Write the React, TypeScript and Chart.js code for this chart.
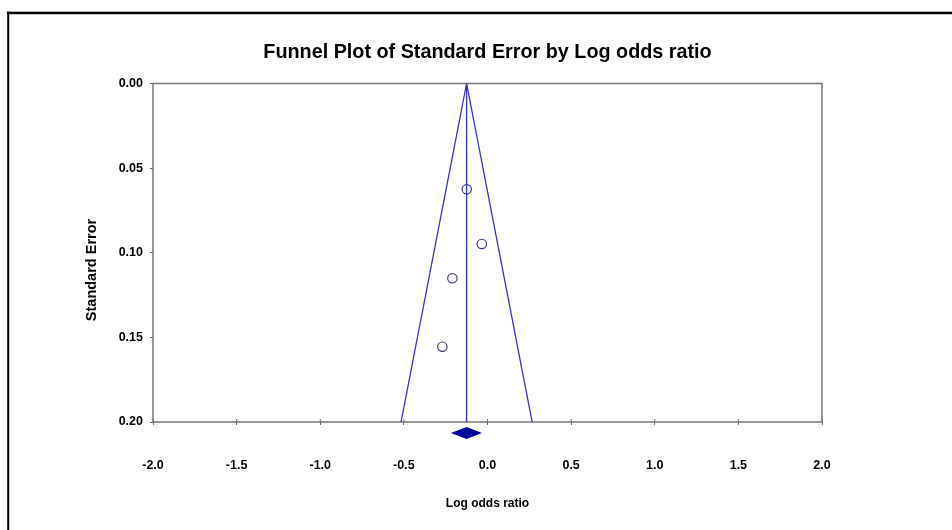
import React, { useEffect, useRef } from "react";
import { Chart, registerables } from "chart.js";

Chart.register(...registerables);

// Study data: log odds ratio and standard error
const studyLogOR = [-0.124, -0.034, -0.21, -0.27];
const studySE = [0.0625, 0.0948, 0.1151, 0.1555];

// Pooled estimate and its confidence interval (diamond)
const pooledEstimate = -0.125;
const pooledCI = [-0.219, -0.033];

// Funnel limits (95%) at SE = 0 and SE = 0.20
const funnelSE = [0, 0.2];
const funnelLeftX = [-0.125, -0.517];
const funnelRightX = [-0.125, 0.267];

// Axis ticks
const xTicks = [-2.0, -1.5, -1.0, -0.5, 0.0, 0.5, 1.0, 1.5, 2.0];
const yTicks = [0.0, 0.05, 0.1, 0.15, 0.2];

const title = "Funnel Plot of Standard Error by Log odds ratio";
const xTitle = "Log odds ratio";
const yTitle = "Standard Error";

const FONT = '"Liberation Sans", Arial, Helvetica, sans-serif';
const LINE_BLUE = "#3434c8";

const decorPlugin = {
  id: "decor",
  beforeDatasetsDraw(chart: any) {
    const { ctx, chartArea } = chart;
    ctx.save();
    ctx.strokeStyle = "#777777";
    ctx.lineWidth = 1.5;
    ctx.strokeRect(chartArea.left, chartArea.top, chartArea.right - chartArea.left, chartArea.bottom - chartArea.top);
    // inner tick marks on x axis (ticks cross the axis)
    const xs = chart.scales.x;
    ctx.lineWidth = 1;
    xTicks.forEach((v) => {
      const px = xs.getPixelForValue(v);
      ctx.beginPath();
      ctx.moveTo(px, chartArea.bottom - 3);
      ctx.lineTo(px, chartArea.bottom);
      ctx.stroke();
    });
    ctx.restore();
  },
  afterDraw(chart: any) {
    const { ctx, chartArea } = chart;
    const xs = chart.scales.x;
    ctx.save();
    // outer page frame (top and left)
    ctx.fillStyle = "#000";
    ctx.fillRect(7, 11.7, 945, 2.5);
    ctx.fillRect(7.2, 11.7, 2, 520);

    // diamond for pooled estimate
    const yc = chartArea.bottom + 11;
    const xl = xs.getPixelForValue(pooledCI[0]);
    const xr = xs.getPixelForValue(pooledCI[1]);
    const xm = xs.getPixelForValue(pooledEstimate);
    ctx.fillStyle = "#00009a";
    ctx.beginPath();
    ctx.moveTo(xl, yc);
    ctx.lineTo(xm, yc - 6);
    ctx.lineTo(xr, yc);
    ctx.lineTo(xm, yc + 6);
    ctx.closePath();
    ctx.fill();

    // titles
    ctx.fillStyle = "#000";
    ctx.textAlign = "center";
    ctx.textBaseline = "middle";
    ctx.font = `bold 19.8px ${FONT}`;
    ctx.fillText(title, (chartArea.left + chartArea.right) / 2, 53);
    ctx.font = `bold 12px ${FONT}`;
    ctx.fillText(xTitle, (chartArea.left + chartArea.right) / 2, 504);
    ctx.save();
    ctx.translate(91.5, 270);
    ctx.rotate(-Math.PI / 2);
    ctx.font = `bold 14.5px ${FONT}`;
    ctx.fillText(yTitle, 0, 0);
    ctx.restore();
    ctx.restore();
  },
};

export default function App() {
  const ref = useRef<HTMLCanvasElement | null>(null);
  useEffect(() => {
    if (!ref.current) return;
    const chart = new Chart(ref.current, {
      type: "scatter",
      data: {
        datasets: [
          {
            label: "Funnel left",
            data: funnelSE.map((s, i) => ({ x: funnelLeftX[i], y: s })),
            showLine: true,
            borderColor: LINE_BLUE,
            borderWidth: 1.3,
            pointRadius: 0,
          },
          {
            label: "Funnel right",
            data: funnelSE.map((s, i) => ({ x: funnelRightX[i], y: s })),
            showLine: true,
            borderColor: LINE_BLUE,
            borderWidth: 1.3,
            pointRadius: 0,
          },
          {
            label: "Pooled",
            data: funnelSE.map((s) => ({ x: pooledEstimate, y: s })),
            showLine: true,
            borderColor: LINE_BLUE,
            borderWidth: 1.3,
            pointRadius: 0,
          },
          {
            label: "Studies",
            data: studyLogOR.map((x, i) => ({ x, y: studySE[i] })),
            pointRadius: 4.7,
            pointBorderWidth: 1.2,
            pointBorderColor: "#3a3a80",
            pointBackgroundColor: "rgba(0,0,0,0)",
          },
        ],
      },
      options: {
        responsive: false,
        animation: false,
        devicePixelRatio: 1,
        layout: { padding: { left: 0, top: 83.5, right: 130, bottom: 0 } },
        plugins: {
          legend: { display: false },
          tooltip: { enabled: false },
          title: { display: false },
        },
        scales: {
          x: {
            type: "linear",
            min: -2,
            max: 2,
            afterBuildTicks: (s: any) => {
              s.ticks = xTicks.map((v) => ({ value: v }));
            },
            afterFit: (s: any) => {
              s.height = 108;
            },
            ticks: {
              callback: (v: any) => Number(v).toFixed(1),
              color: "#000",
              font: { family: FONT, size: 12.5, weight: "bold" },
              padding: 33,
              maxRotation: 0,
              autoSkip: false,
            },
            grid: {
              drawOnChartArea: false,
              tickLength: 3,
              tickColor: "#666",
            },
            border: { display: false },
          },
          y: {
            type: "linear",
            reverse: true,
            min: 0,
            max: 0.2,
            afterBuildTicks: (s: any) => {
              s.ticks = yTicks.map((v) => ({ value: v }));
            },
            afterFit: (s: any) => {
              s.width = 153;
            },
            ticks: {
              callback: (v: any) => Number(v).toFixed(2),
              color: "#000",
              font: { family: FONT, size: 12.5, weight: "bold" },
              padding: 7,
              autoSkip: false,
            },
            grid: {
              drawOnChartArea: false,
              tickLength: 3,
              tickColor: "#666",
            },
            border: { display: false },
          },
        },
      },
      plugins: [decorPlugin],
    } as any);
    return () => chart.destroy();
  }, []);

  return (
    <div style={{ position: "fixed", left: 0, top: 0, width: 952, height: 530, background: "#fff" }}>
      <canvas ref={ref} width={952} height={530} style={{ display: "block", width: 952, height: 530 }} />
    </div>
  );
}
